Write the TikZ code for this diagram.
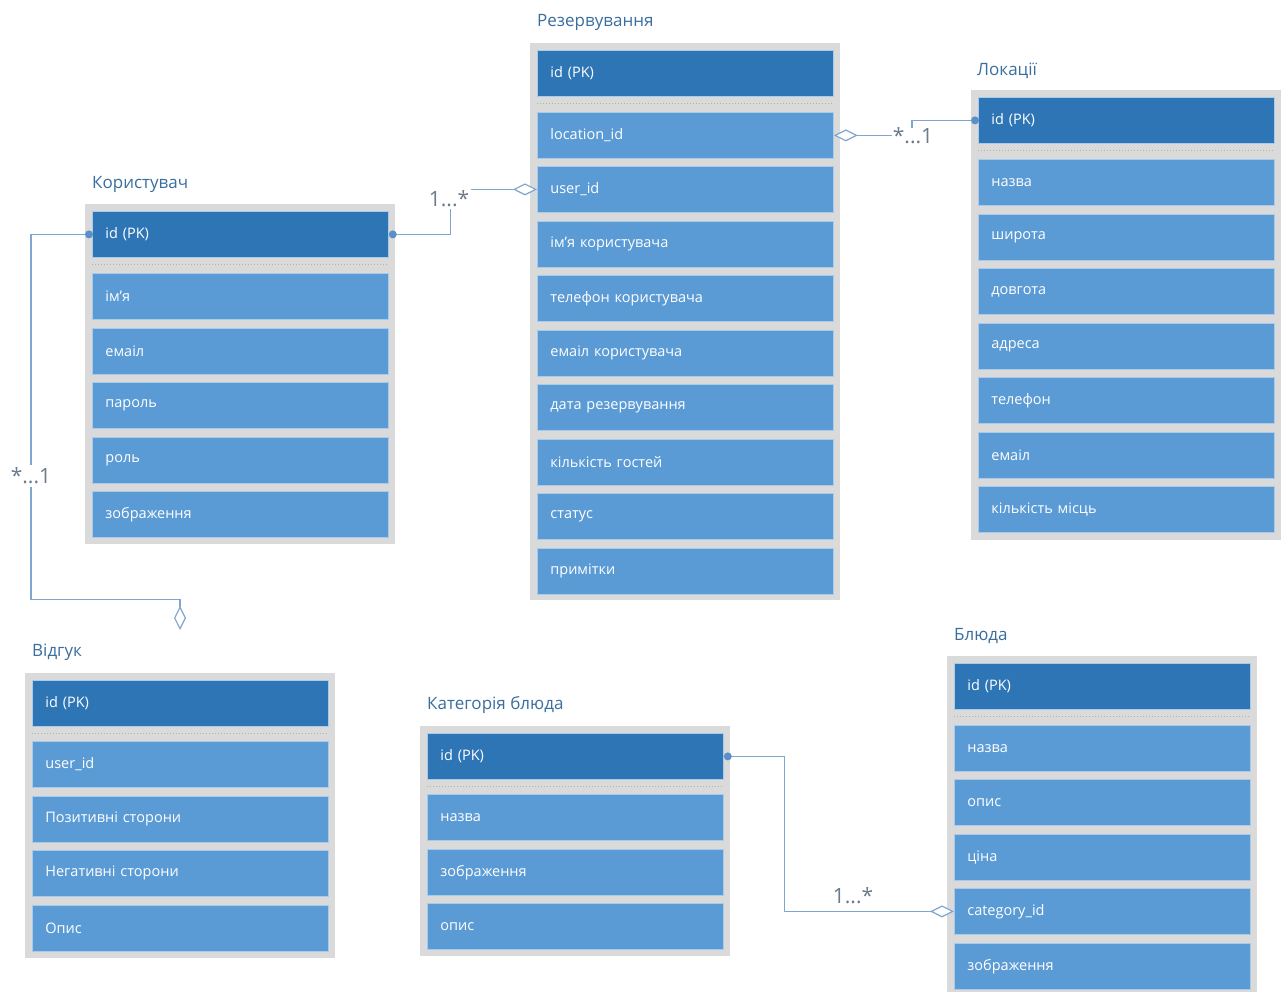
\documentclass[tikz,border=0pt]{standalone}
\usepackage{fontspec}
\setmainfont{Open Sans}
\usetikzlibrary{arrows.meta}
\definecolor{hdr}{HTML}{2E75B6}
\definecolor{rowc}{HTML}{5B9BD5}
\definecolor{rowedge}{HTML}{A9CBEB}
\definecolor{frame}{HTML}{DADADA}
\definecolor{ttl}{HTML}{3A6E9F}
\definecolor{conn}{HTML}{7EA6CE}
\definecolor{dotc}{HTML}{5B8FC7}
\definecolor{lbl}{HTML}{6B7B8B}
\definecolor{sepc}{HTML}{A8B898}
\tikzset{
 cell/.style={anchor=north west, minimum width=296pt, minimum height=46pt, text width=270pt, inner xsep=13pt, inner ysep=0pt, align=left, text=white, font=\fontsize{14.5}{17}\selectfont, draw=rowedge, line width=0.8pt},
 hdrcell/.style={cell, fill=hdr},
 rowcell/.style={cell, fill=rowc},
 frm/.style={anchor=north west, fill=frame, inner sep=0pt, minimum width=310pt},
 ttlnode/.style={anchor=west, inner sep=0pt, text=ttl, font=\fontsize{17}{20}\selectfont},
 sepline/.style={sepc, dotted, line width=1pt},
 link/.style={conn, line width=1.2pt},
 dia/.style={-{Diamond[length=24pt, width=12pt, fill=white]}},
 dotmark/.style={circle, fill=dotc, inner sep=0pt, minimum size=8pt},
 mult/.style={text=lbl, font=\fontsize{21}{24}\selectfont, inner sep=0pt},
}
\begin{document}
\begin{tikzpicture}[x=1pt,y=-1pt]
\useasboundingbox (0,0) rectangle (1283,992);
\clip (0,0) rectangle (1283,992);
\fill[white] (0,0) rectangle (1283,992);

% ---------- Резервування ----------
\node[ttlnode] (rz-t) at (537,22) {Резервування};
\node[frm, minimum height=557pt] (rz-f) at (530,43) {};
\node[hdrcell] (rz-h) at (537,50) {id (PK)};
\draw[sepline] ([yshift=-7pt]rz-h.south west) -- ([yshift=-7pt]rz-h.south east);
\node[rowcell] (rz-loc) at (537,112) {location\_id};
\node[rowcell] (rz-user) at (537,166) {user\_id};
\node[rowcell] (rz-r3) at (537,221) {ім'я користувача};
\node[rowcell] (rz-r4) at (537,275) {телефон користувача};
\node[rowcell] (rz-r5) at (537,330) {емаіл користувача};
\node[rowcell] (rz-r6) at (537,384) {дата резервування};
\node[rowcell] (rz-r7) at (537,439) {кількість гостей};
\node[rowcell] (rz-r8) at (537,493) {статус};
\node[rowcell] (rz-r9) at (537,548) {примітки};

% ---------- Локації ----------
\node[ttlnode] (lk-t) at (977,71) {Локації};
\node[frm, minimum height=450pt] (lk-f) at (971,90) {};
\node[hdrcell] (lk-h) at (978,97) {id (PK)};
\draw[sepline] ([yshift=-7pt]lk-h.south west) -- ([yshift=-7pt]lk-h.south east);
\node[rowcell] (lk-r1) at (978,159) {назва};
\node[rowcell] (lk-r2) at (978,214) {широта};
\node[rowcell] (lk-r3) at (978,268) {довгота};
\node[rowcell] (lk-r4) at (978,323) {адреса};
\node[rowcell] (lk-r5) at (978,377) {телефон};
\node[rowcell] (lk-r6) at (978,432) {емаіл};
\node[rowcell] (lk-r7) at (978,486) {кількість місць};

% ---------- Користувач ----------
\node[ttlnode] (ku-t) at (92,184) {Користувач};
\node[frm, minimum height=340pt] (ku-f) at (85,204) {};
\node[hdrcell] (ku-h) at (92,211) {id (PK)};
\draw[sepline] ([yshift=-7pt]ku-h.south west) -- ([yshift=-7pt]ku-h.south east);
\node[rowcell] (ku-r1) at (92,273) {ім'я};
\node[rowcell] (ku-r2) at (92,328) {емаіл};
\node[rowcell] (ku-r3) at (92,382) {пароль};
\node[rowcell] (ku-r4) at (92,437) {роль};
\node[rowcell] (ku-r5) at (92,491) {зображення};

% ---------- Відгук ----------
\node[ttlnode] (vg-t) at (32,652) {Відгук};
\node[frm, minimum height=285pt] (vg-f) at (25,673) {};
\node[hdrcell] (vg-h) at (32,680) {id (PK)};
\draw[sepline] ([yshift=-7pt]vg-h.south west) -- ([yshift=-7pt]vg-h.south east);
\node[rowcell] (vg-r1) at (32,741) {user\_id};
\node[rowcell] (vg-r2) at (32,796) {Позитивні сторони};
\node[rowcell] (vg-r3) at (32,850) {Негативні сторони};
\node[rowcell] (vg-r4) at (32,905) {Опис};

% ---------- Категорія блюда ----------
\node[ttlnode] (kb-t) at (427,705) {Категорія блюда};
\node[frm, minimum height=230pt] (kb-f) at (420,726) {};
\node[hdrcell] (kb-h) at (427,733) {id (PK)};
\draw[sepline] ([yshift=-7pt]kb-h.south west) -- ([yshift=-7pt]kb-h.south east);
\node[rowcell] (kb-r1) at (427,794) {назва};
\node[rowcell] (kb-r2) at (427,849) {зображення};
\node[rowcell] (kb-r3) at (427,903) {опис};

% ---------- Блюда ----------
\node[ttlnode] (bl-t) at (954,636) {Блюда};
\node[frm, minimum height=345pt] (bl-f) at (947,656) {};
\node[hdrcell] (bl-h) at (954,663) {id (PK)};
\draw[sepline] ([yshift=-7pt]bl-h.south west) -- ([yshift=-7pt]bl-h.south east);
\node[rowcell] (bl-r1) at (954,725) {назва};
\node[rowcell] (bl-r2) at (954,779) {опис};
\node[rowcell] (bl-r3) at (954,834) {ціна};
\node[rowcell] (bl-cat) at (954,888) {category\_id};
\node[rowcell] (bl-r5) at (954,943) {зображення};

% ---------- Connectors ----------
% Користувач -> Резервування
\draw[link,dia] (ku-h.east) -- ++(62,0) |- (rz-user.west);
\node[mult, fill=white, inner xsep=2pt, inner ysep=2pt] (m1) at (449,199) {1...*};
\node[dotmark] (d1) at ([xshift=4pt]ku-h.east) {};

% Локації -> Резервування
\draw[link,dia] (lk-h.west) -- ++(-66,0) |- (rz-loc.east);
\node[mult, fill=white, inner xsep=1pt] (m2) at (913,136) {*...1};
\node[dotmark] (d2) at ([xshift=-3pt]lk-h.west) {};

% Користувач -> Відгук
\coordinate (vg-end) at (180,630);
\draw[link,-{Diamond[length=24pt, width=12pt, fill=white]}] (ku-h.west) -- ++(-61,0) -- ++(0,365) -| (vg-end);
\node[mult, fill=white, inner ysep=3pt] (m3) at (31,476) {*...1};
\node[dotmark] (d3) at ([xshift=-3pt]ku-h.west) {};

% Категорія блюда -> Блюда
\draw[link,dia] (kb-h.east) -- ++(61,0) |- (bl-cat.west);
\node[mult] (m4) at (853,896) {1...*};
\node[dotmark] (d4) at ([xshift=4pt]kb-h.east) {};
\end{tikzpicture}
\end{document}
